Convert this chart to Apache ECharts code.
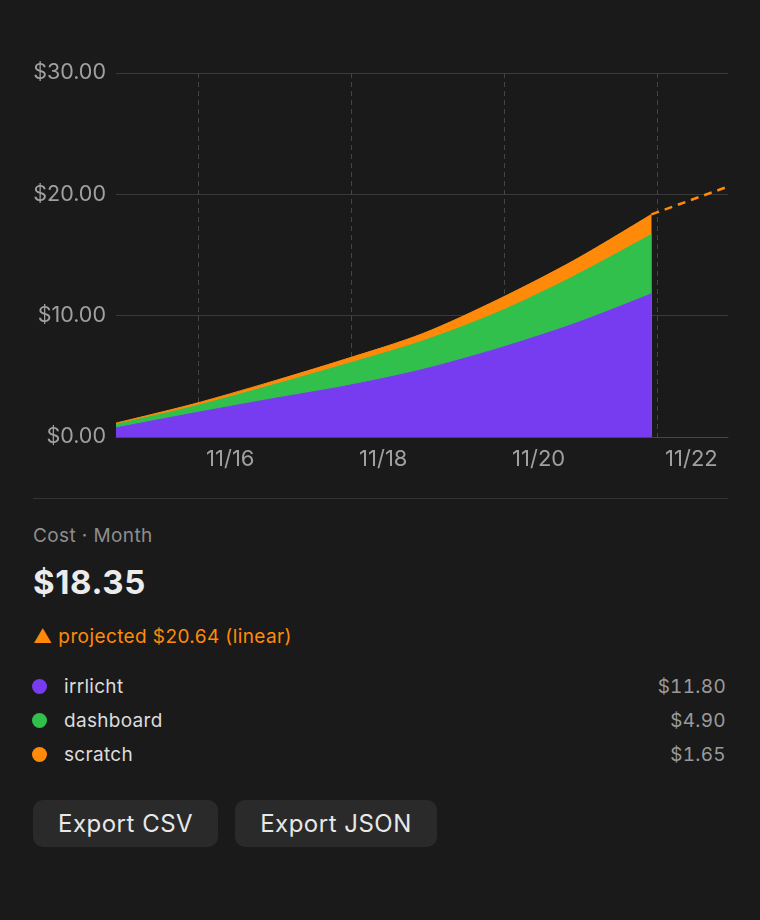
<!DOCTYPE html>
<html>
<head>
<meta charset="utf-8">
<script src="https://cdn.jsdelivr.net/npm/echarts@6/dist/echarts.min.js"></script>
<style>
  html, body { margin: 0; padding: 0; background: #1a1a1a; }
  body { width: 760px; height: 920px; font-family: Inter, "Noto Sans", sans-serif; color: #e6e6e6; }
  #chart { width: 760px; height: 480px; }
  .panel { margin: 18px 32px 0 33px; border-top: 1px solid #343434; }
  .caption { margin-top: 26px; font-size: 19px; line-height: 22px; color: #8e8e8e; letter-spacing: 0.4px; }
  .total { margin-top: 17px; font-size: 33px; line-height: 36px; font-weight: 700; color: #ececec; letter-spacing: 0.6px; }
  .proj { margin-top: 26px; font-size: 19px; line-height: 22px; color: #ff8a0a; letter-spacing: 0.4px; }
  .legend { margin-top: 21px; }
  .row { display: flex; align-items: center; height: 34px; font-size: 19px; letter-spacing: 0.3px; }
  .dot { width: 15px; height: 15px; border-radius: 50%; margin-left: -1px; margin-right: 17px; }
  .name { flex: 1; color: #dcdcdc; }
  .val { color: #9a9a9a; margin-right: 2px; font-variant-numeric: tabular-nums; letter-spacing: 0.3px; }
  .buttons { margin-top: 29px; display: flex; gap: 17px; }
  .btn { height: 47px; padding: 0 25px; border-radius: 10px; background: #2a2a2a; color: #e8e8e8;
         font-size: 24px; line-height: 47px; letter-spacing: 0.5px; }
</style>
</head>
<body>
<div id="chart"></div>
<div class="panel">
  <div class="caption">Cost · Month</div>
  <div class="total" id="total"></div>
  <div class="proj" id="proj"></div>
  <div class="legend" id="legend"></div>
  <div class="buttons">
    <div class="btn">Export CSV</div>
    <div class="btn">Export JSON</div>
  </div>
</div>
<script>
// sample times (UTC), one per day up to "now"
const times = ['2025-11-14T22:15Z', '2025-11-15T22:15Z', '2025-11-16T22:15Z', '2025-11-17T22:15Z',
               '2025-11-18T22:15Z', '2025-11-19T22:15Z', '2025-11-20T22:15Z', '2025-11-21T22:15Z'];
const seriesNames = ['irrlicht', 'dashboard', 'scratch'];
const colors = ['#773cef', '#31c04b', '#ff8a0a'];
const irrlicht  = [0.75, 1.95, 3.10, 4.20, 5.55, 7.30, 9.35, 11.80];
const dashboard = [0.30, 0.55, 1.10, 1.80, 2.35, 3.00, 3.95, 4.90];
const scratch   = [0.10, 0.20, 0.30, 0.42, 0.60, 1.05, 1.30, 1.65];
// linear projection, now -> +1 day
const projTimes = ['2025-11-21T22:15Z', '2025-11-22T22:15Z'];
const projValues = [18.35, 20.64];
const tickDays = ['2025-11-16T00:00Z', '2025-11-18T00:00Z', '2025-11-20T00:00Z', '2025-11-22T00:00Z'];
const yTicks = [0, 10, 20, 30];

const ts = s => new Date(s).getTime();
const values = [irrlicht, dashboard, scratch];

const fmtMoney = v => '$' + v.toFixed(2);
const fmtDay = v => { const d = new Date(v); return (d.getUTCMonth() + 1) + '/' + d.getUTCDate(); };

// stack by hand (echarts stacks x when both axes are value axes)
const stacked = values.map((arr, i) =>
    arr.map((v, j) => values.slice(0, i + 1).reduce((s, a) => s + a[j], 0)));

const getOption = () => {
    // draw the tallest band first so the lower ones sit on top of it
    const series = [2, 1, 0].map((i, k) => ({
        name: seriesNames[i],
        type: 'line',
        smooth: 0.3,
        symbol: 'none',
        z: 3 + k,
        lineStyle: { width: 1, color: colors[i] },
        areaStyle: { color: colors[i], opacity: 1 },
        data: stacked[i].map((v, j) => [ts(times[j]), v])
    }));
    series.push({
        name: 'projection',
        type: 'line',
        symbol: 'none',
        z: 8,
        lineStyle: { width: 2.5, color: colors[2], type: [8, 6] },
        data: projValues.map((v, j) => [ts(projTimes[j]), v])
    });
    return {
        backgroundColor: 'transparent',
        animation: false,
        grid: { left: 116, right: 32, top: 73, bottom: 43 },
        xAxis: {
            type: 'value',
            min: ts(times[0]),
            max: ts(projTimes[1]),
            axisLine: { lineStyle: { color: '#474747', width: 1 } },
            axisTick: { show: false, customValues: tickDays.map(ts) },
            axisLabel: {
                customValues: tickDays.map(ts),
                formatter: fmtDay,
                color: '#a0a0a0',
                fontSize: 22,
                fontFamily: 'Inter',
                align: 'left',
                padding: [0, 0, 0, 8],
                margin: 11
            },
            splitLine: { show: true, lineStyle: { color: '#444', type: [5, 4], width: 1 } }
        },
        yAxis: {
            type: 'value',
            min: yTicks[0],
            max: yTicks[yTicks.length - 1],
            interval: 10,
            axisLine: { show: false },
            axisTick: { show: false },
            axisLabel: { formatter: fmtMoney, color: '#a0a0a0', fontSize: 21.5, fontFamily: 'Inter', margin: 10 },
            splitLine: { lineStyle: { color: '#3a3a3a', width: 1 } }
        },
        series: series
    };
};

const initPanel = () => {
    const last = values.map(a => a[a.length - 1]);
    const total = last.reduce((s, v) => s + v, 0);
    document.getElementById('total').textContent = fmtMoney(total);
    document.getElementById('proj').textContent = '▲ projected ' + fmtMoney(projValues[1]) + ' (linear)';
    const legend = document.getElementById('legend');
    seriesNames.forEach((name, i) => {
        const row = document.createElement('div');
        row.className = 'row';
        row.innerHTML = `<span class="dot" style="background:${colors[i]}"></span>
            <span class="name">${name}</span><span class="val">${fmtMoney(last[i])}</span>`;
        legend.appendChild(row);
    });
};

window.addEventListener('load', () => {
    initPanel();
    const chart = echarts.init(document.getElementById('chart'));
    chart.setOption(getOption());
});
</script>
</body>
</html>
